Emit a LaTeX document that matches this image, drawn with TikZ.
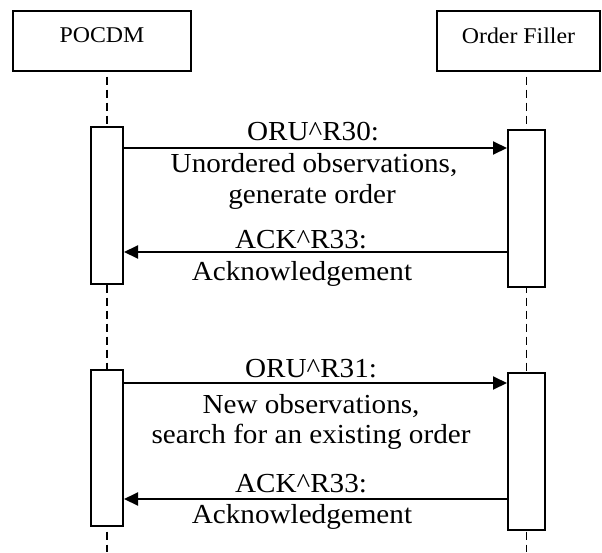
\documentclass[tikz,border=0pt]{standalone}
\usepackage{fontspec}
\setmainfont[FakeStretch=1.06]{Liberation Serif}
\usepackage{tikz}
\usetikzlibrary{arrows.meta,positioning,calc}

\begin{document}
\begin{tikzpicture}[
    x=1pt, y=-1pt,
    actor/.style={rectangle, draw, line width=2pt, minimum width=#1, minimum height=60pt, inner sep=0pt, text depth=10pt, font=\fontsize{22.5}{24}\selectfont},
    bar/.style={rectangle, draw, fill=white, line width=2pt, minimum width=#1, inner sep=0pt},
    lifeline/.style={line width=1.7pt, dash pattern=on 8pt off 5pt, dash phase=8pt},
    msg/.style={-{Triangle[length=14pt,width=13pt]}, line width=2pt},
    lbl/.style={anchor=base, inner sep=0pt, font=\fontsize{27.5}{30}\selectfont}
]
    \useasboundingbox (0,0) rectangle (602,552);

    % Participants
    \node[actor=178pt] (pocdm) at (102,40.5) {POCDM};
    \node[actor=163pt] (filler) at (518.5,40.5) {Order Filler};

    % Lifelines
    \coordinate (pocdmend) at (107,552);
    \coordinate (fillerend) at (526.5,552);
    \draw[lifeline] (pocdm.south -| pocdmend) -- (pocdmend);
    \draw[lifeline] (filler.south -| fillerend) -- (fillerend);

    % Activation bars
    \node[bar=32pt, minimum height=157pt] (pocdmA) at (107,205.5) {};
    \node[bar=37pt, minimum height=157pt] (fillerA) at (526.5,208.5) {};
    \node[bar=32pt, minimum height=156pt] (pocdmB) at (107,448) {};
    \node[bar=37pt, minimum height=157pt] (fillerB) at (526.5,451.5) {};

    % Message rows
    \coordinate (rowA1) at (0,148);
    \coordinate (rowA2) at (0,252);
    \coordinate (rowB1) at (0,383);
    \coordinate (rowB2) at (0,499);

    % First exchange
    \draw[msg] (pocdmA.east |- rowA1) -- (fillerA.west |- rowA1);
    \node[lbl] (oruA) at (313,140) {ORU\textasciicircum R30:};
    \node[lbl] (oruAa) at (314,172) {Unordered observations,};
    \node[lbl] (oruAb) at (312,203) {generate order};
    \draw[msg] (fillerA.west |- rowA2) -- (pocdmA.east |- rowA2);
    \node[lbl] (ackA) at (301,248) {ACK\textasciicircum R33:};
    \node[lbl] (ackAa) at (302,280) {Acknowledgement};

    % Second exchange
    \draw[msg] (pocdmB.east |- rowB1) -- (fillerB.west |- rowB1);
    \node[lbl] (oruB) at (311,377) {ORU\textasciicircum R31:};
    \node[lbl] (oruBa) at (311,413) {New observations,};
    \node[lbl] (oruBb) at (311,443) {search for an existing order};
    \draw[msg] (fillerB.west |- rowB2) -- (pocdmB.east |- rowB2);
    \node[lbl] (ackB) at (301,492) {ACK\textasciicircum R33:};
    \node[lbl] (ackBa) at (302,523) {Acknowledgement};
\end{tikzpicture}
\end{document}
